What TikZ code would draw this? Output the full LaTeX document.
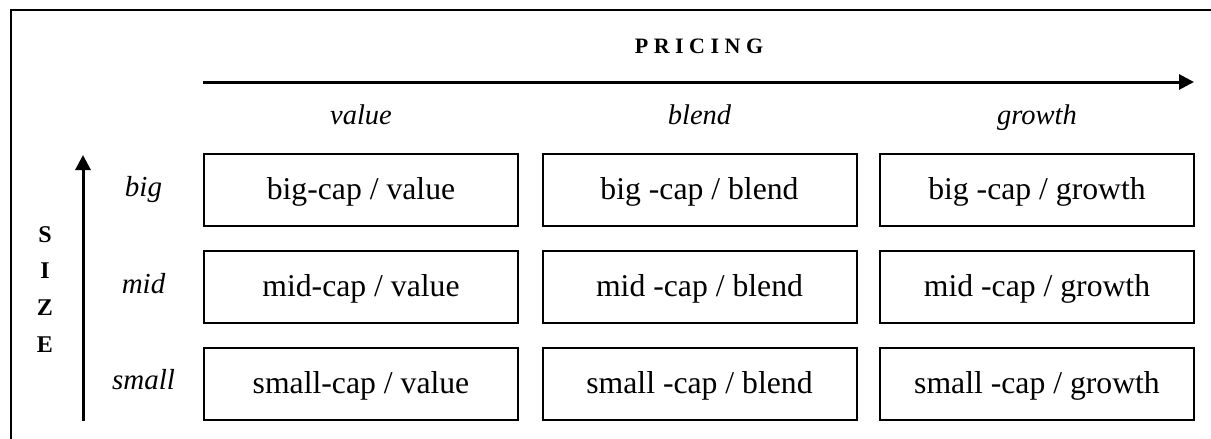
\documentclass[tikz,border=0pt]{standalone}
\usepackage{fontspec}
\setmainfont{Liberation Serif}
\usetikzlibrary{arrows.meta}
\begin{document}
\begin{tikzpicture}[x=1pt,y=-1pt,
  cellbox/.style={draw, line width=2pt, minimum width=314pt, minimum height=72pt,
    inner sep=0pt, text height=25pt, text depth=6pt,
    font=\fontsize{31.7}{36}\selectfont},
  rowlab/.style={anchor=base, inner sep=0pt, font=\fontsize{29}{34}\selectfont\itshape},
  collab/.style={anchor=base, inner sep=0pt, font=\fontsize{28.5}{34}\selectfont\itshape},
  axlab/.style={anchor=base, inner sep=0pt, font=\fontsize{24}{28}\selectfont\bfseries},
  axarrow/.style={line width=3pt, -{Triangle[length=15pt,width=15pt]}}]
\useasboundingbox (0,0) rectangle (1211,439);
\clip (0,0) rectangle (1211,439);
% outer frame (open to the right and bottom)
\draw[line width=2pt] (11,450) -- (11,10) -- (1225,10);
% axis title PRICING
\node[anchor=base, inner sep=0pt, font=\fontsize{22}{26}\selectfont\bfseries] (pricing) at (699,53)
  {P\kern5.5pt R\kern5.5pt I\kern5.5pt C\kern5.5pt I\kern5.5pt N\kern5.5pt G};
% horizontal axis arrow
\coordinate (hs) at (203,82);
\coordinate (he) at (1194,82);
\draw[axarrow] (hs) -- (he);
% column labels
\node[collab] (cv) at (361,124) {value};
\node[collab] (cb) at (699.5,124) {blend};
\node[collab] (cg) at (1037,124) {growth};
% vertical axis arrow
\coordinate (vs) at (83,421);
\coordinate (ve) at (83,155);
\draw[axarrow] (vs) -- (ve);
% SIZE letters
\node[axlab] (s1) at (45,242) {S};
\node[axlab] (s2) at (45,278) {I};
\node[axlab] (s3) at (45,315) {Z};
\node[axlab] (s4) at (45,352) {E};
% row labels
\node[rowlab] (rb) at (143.5,196) {big};
\node[rowlab] (rm) at (143.5,293) {mid};
\node[rowlab] (rs) at (143.5,389) {small};
% cells
\node[cellbox] (b1) at (361,190) {big-cap / value};
\node[cellbox] (b2) at (699.5,190) {big -cap / blend};
\node[cellbox] (b3) at (1037,190) {big -cap / growth};
\node[cellbox] (m1) at (361,287) {mid-cap / value};
\node[cellbox] (m2) at (699.5,287) {mid -cap / blend};
\node[cellbox] (m3) at (1037,287) {mid -cap / growth};
\node[cellbox] (l1) at (361,384) {small-cap / value};
\node[cellbox] (l2) at (699.5,384) {small -cap / blend};
\node[cellbox] (l3) at (1037,384) {small -cap / growth};
\end{tikzpicture}
\end{document}
